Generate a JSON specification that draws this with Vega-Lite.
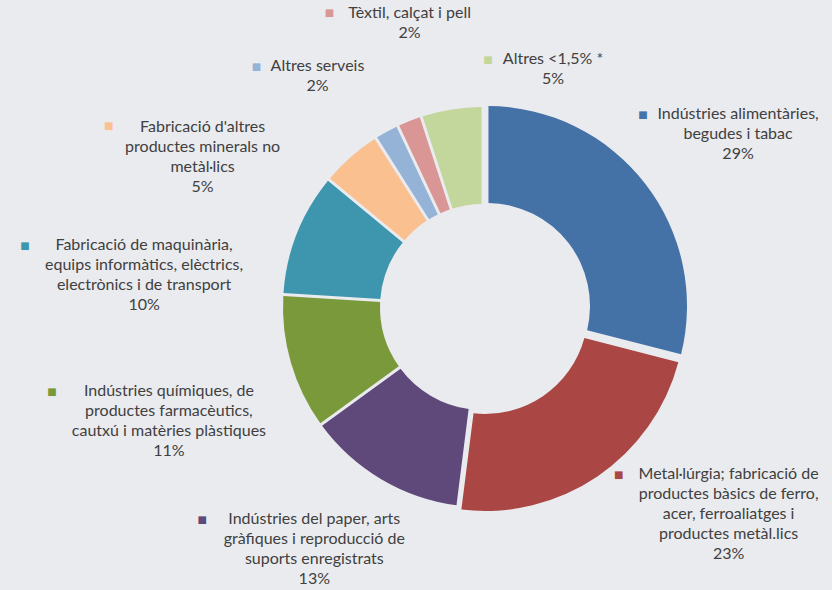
{
  "$schema": "https://vega.github.io/schema/vega-lite/v6.json",
  "width": 698,
  "height": 566,
  "autosize": {"type": "none"},
  "padding": {"left": 134, "top": 24, "right": 0, "bottom": 0},
  "background": "#EAEBEF",
  "config": {"view": {"stroke": null}},
  "data": {
    "values": [
      {"k": 1, "cat": "Indústries alimentàries, begudes i tabac", "value": 29, "label": "Indústries alimentàries,\nbegudes i tabac\n29%"},
      {"k": 2, "cat": "Metal·lúrgia; fabricació de productes bàsics de ferro, acer, ferroaliatges i productes metàl.lics", "value": 23, "label": "Metal·lúrgia; fabricació de\nproductes bàsics de ferro,\nacer, ferroaliatges i\nproductes metàl.lics\n23%"},
      {"k": 3, "cat": "Indústries del paper, arts gràfiques i reproducció de suports enregistrats", "value": 13, "label": "Indústries del paper, arts\ngràfiques i reproducció de\nsuports enregistrats\n13%"},
      {"k": 4, "cat": "Indústries químiques, de productes farmacèutics, cautxú i matèries plàstiques", "value": 11, "label": "Indústries químiques, de\nproductes farmacèutics,\ncautxú i matèries plàstiques\n11%"},
      {"k": 5, "cat": "Fabricació de maquinària, equips informàtics, elèctrics, electrònics i de transport", "value": 10, "label": "Fabricació de maquinària,\nequips informàtics, elèctrics,\nelectrònics i de transport\n10%"},
      {"k": 6, "cat": "Fabricació d'altres productes minerals no metàl·lics", "value": 5, "label": "Fabricació d'altres\nproductes minerals no\nmetàl·lics\n5%"},
      {"k": 7, "cat": "Altres serveis", "value": 2, "label": "Altres serveis\n2%"},
      {"k": 8, "cat": "Tèxtil, calçat i pell", "value": 2, "label": "Tèxtil, calçat i pell\n2%"},
      {"k": 9, "cat": "Altres <1,5% *", "value": 5, "label": "Altres <1,5% *\n5%"}
    ]
  },
  "encoding": {
    "theta": {"field": "value", "type": "quantitative", "stack": true},
    "order": {"field": "k", "type": "quantitative"},
    "color": {
      "field": "k",
      "type": "nominal",
      "legend": null,
      "scale": {
        "domain": [1, 2, 3, 4, 5, 6, 7, 8, 9],
        "range": ["#4472A7", "#AA4643", "#5F497A", "#7A993B", "#3D96AE", "#FAC090", "#95B3D7", "#D99694", "#C3D69B"]
      }
    }
  },
  "layer": [
    {
      "mark": {"type": "arc", "outerRadius": 200, "innerRadius": 103, "padAngle": 0.013},
      "encoding": {"opacity": {"condition": {"test": "datum.k > 2", "value": 1}, "value": 0}}
    },
    {
      "mark": {"type": "arc", "outerRadius": 200, "innerRadius": 103, "padAngle": 0.013, "xOffset": 4, "yOffset": -1},
      "encoding": {"opacity": {"condition": {"test": "datum.k === 1", "value": 1}, "value": 0}}
    },
    {
      "mark": {"type": "arc", "outerRadius": 200, "innerRadius": 103, "padAngle": 0.013, "xOffset": 2, "yOffset": 4},
      "encoding": {"opacity": {"condition": {"test": "datum.k === 2", "value": 1}, "value": 0}}
    },
    {"mark": {"type": "text", "radius": 300, "dx": 18, "dy": -17, "baseline": "top", "align": "center", "lineBreak": "\n", "lineHeight": 20, "font": "Lato", "fontSize": 16},
     "encoding": {"color": {"value": "#404040"}, "text": {"condition": {"test": "datum.k === 1", "field": "label"}, "value": ""}}},
    {"mark": {"type": "text", "radius": 300, "dx": 77, "dy": -89, "baseline": "top", "align": "center", "lineBreak": "\n", "lineHeight": 20, "font": "Lato", "fontSize": 16},
     "encoding": {"color": {"value": "#404040"}, "text": {"condition": {"test": "datum.k === 2", "field": "label"}, "value": ""}}},
    {"mark": {"type": "text", "radius": 300, "dx": -16, "dy": -54, "baseline": "top", "align": "center", "lineBreak": "\n", "lineHeight": 20, "font": "Lato", "fontSize": 16},
     "encoding": {"color": {"value": "#404040"}, "text": {"condition": {"test": "datum.k === 3", "field": "label"}, "value": ""}}},
    {"mark": {"type": "text", "radius": 300, "dx": -26, "dy": -8, "baseline": "top", "align": "center", "lineBreak": "\n", "lineHeight": 20, "font": "Lato", "fontSize": 16},
     "encoding": {"color": {"value": "#404040"}, "text": {"condition": {"test": "datum.k === 4", "field": "label"}, "value": ""}}},
    {"mark": {"type": "text", "radius": 300, "dx": -60, "dy": 40, "baseline": "top", "align": "center", "lineBreak": "\n", "lineHeight": 20, "font": "Lato", "fontSize": 16},
     "encoding": {"color": {"value": "#404040"}, "text": {"condition": {"test": "datum.k === 5", "field": "label"}, "value": ""}}},
    {"mark": {"type": "text", "radius": 300, "dx": -82, "dy": 37, "baseline": "top", "align": "center", "lineBreak": "\n", "lineHeight": 20, "font": "Lato", "fontSize": 16},
     "encoding": {"color": {"value": "#404040"}, "text": {"condition": {"test": "datum.k === 6", "field": "label"}, "value": ""}}},
    {"mark": {"type": "text", "radius": 300, "dx": -21, "dy": 14, "baseline": "top", "align": "center", "lineBreak": "\n", "lineHeight": 20, "font": "Lato", "fontSize": 16},
     "encoding": {"color": {"value": "#404040"}, "text": {"condition": {"test": "datum.k === 7", "field": "label"}, "value": ""}}},
    {"mark": {"type": "text", "radius": 300, "dx": 37, "dy": -23, "baseline": "top", "align": "center", "lineBreak": "\n", "lineHeight": 20, "font": "Lato", "fontSize": 16},
     "encoding": {"color": {"value": "#404040"}, "text": {"condition": {"test": "datum.k === 8", "field": "label"}, "value": ""}}},
    {"mark": {"type": "text", "radius": 300, "dx": 117, "dy": 40, "baseline": "top", "align": "center", "lineBreak": "\n", "lineHeight": 20, "font": "Lato", "fontSize": 16},
     "encoding": {"color": {"value": "#404040"}, "text": {"condition": {"test": "datum.k === 9", "field": "label"}, "value": ""}}},
    {"mark": {"type": "text", "radius": 300, "dx": -77, "dy": -8, "baseline": "middle", "align": "center", "font": "DejaVu Sans", "fontSize": 10},
     "encoding": {"text": {"condition": {"test": "datum.k === 1", "value": "■"}, "value": ""}}},
    {"mark": {"type": "text", "radius": 300, "dx": -33, "dy": -80, "baseline": "middle", "align": "center", "font": "DejaVu Sans", "fontSize": 10},
     "encoding": {"text": {"condition": {"test": "datum.k === 2", "value": "■"}, "value": ""}}},
    {"mark": {"type": "text", "radius": 300, "dx": -128, "dy": -45, "baseline": "middle", "align": "center", "font": "DejaVu Sans", "fontSize": 10},
     "encoding": {"text": {"condition": {"test": "datum.k === 3", "value": "■"}, "value": ""}}},
    {"mark": {"type": "text", "radius": 300, "dx": -143, "dy": 1, "baseline": "middle", "align": "center", "font": "DejaVu Sans", "fontSize": 10},
     "encoding": {"text": {"condition": {"test": "datum.k === 4", "value": "■"}, "value": ""}}},
    {"mark": {"type": "text", "radius": 300, "dx": -179, "dy": 49, "baseline": "middle", "align": "center", "font": "DejaVu Sans", "fontSize": 10},
     "encoding": {"text": {"condition": {"test": "datum.k === 5", "value": "■"}, "value": ""}}},
    {"mark": {"type": "text", "radius": 300, "dx": -176, "dy": 44, "baseline": "middle", "align": "center", "font": "DejaVu Sans", "fontSize": 10},
     "encoding": {"text": {"condition": {"test": "datum.k === 6", "value": "■"}, "value": ""}}},
    {"mark": {"type": "text", "radius": 300, "dx": -82, "dy": 23, "baseline": "middle", "align": "center", "font": "DejaVu Sans", "fontSize": 10},
     "encoding": {"text": {"condition": {"test": "datum.k === 7", "value": "■"}, "value": ""}}},
    {"mark": {"type": "text", "radius": 300, "dx": -43, "dy": -15, "baseline": "middle", "align": "center", "font": "DejaVu Sans", "fontSize": 10},
     "encoding": {"text": {"condition": {"test": "datum.k === 8", "value": "■"}, "value": ""}}},
    {"mark": {"type": "text", "radius": 300, "dx": 52, "dy": 49, "baseline": "middle", "align": "center", "font": "DejaVu Sans", "fontSize": 10},
     "encoding": {"text": {"condition": {"test": "datum.k === 9", "value": "■"}, "value": ""}}}
  ]
}
